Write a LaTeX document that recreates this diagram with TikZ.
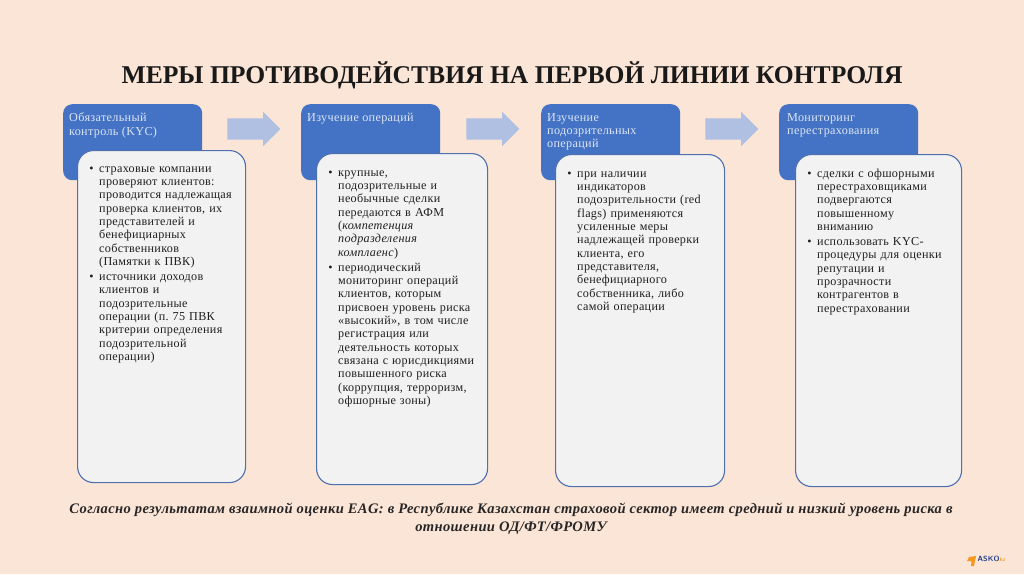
\documentclass[tikz,border=0pt]{standalone}
\usepackage{fontspec}
\setmainfont{Liberation Serif}
\newfontfamily\spacedface{Liberation Serif}[LetterSpace=2.6]
\usepackage{xcolor}
\usetikzlibrary{shapes.arrows, positioning}
\definecolor{pagepeach}{HTML}{FBE5D6}
\definecolor{headblue}{HTML}{4472C4}
\definecolor{headtext}{HTML}{DCE6F4}
\definecolor{bodygray}{HTML}{F2F2F2}
\definecolor{bodyline}{HTML}{4E70AE}
\definecolor{flowblue}{HTML}{AFC0E3}
\definecolor{logoorange}{HTML}{F39A1E}
\definecolor{logoblue}{HTML}{1F3F8F}
\newcommand{\bul}{\leavevmode\strut\llap{\textbullet\hskip5.5pt}}
\newcommand{\bodyfont}{\spacedface\frenchspacing\fontsize{12.15}{13.35}\selectfont}
\tikzset{
    headbox/.style={fill=headblue, rounded corners=9pt, minimum width=139pt,
        minimum height=76pt, anchor=north west, inner sep=0pt},
    headlabel/.style={text=headtext, anchor=north west, inner sep=0pt, align=left,
        font=\spacedface\fontsize{12.2}{13.2}\selectfont},
    bodybox/.style={fill=bodygray, draw=bodyline, line width=1.1pt, rounded corners=16pt,
        anchor=north west, inner sep=0pt},
    bodylabel/.style={text=black!88, anchor=north west, inner sep=0pt, text width=158pt,
        align=left, font=\bodyfont},
    flowarrow/.style={single arrow, fill=flowblue, inner xsep=0pt, inner ysep=10.5pt,
        minimum height=53pt, single arrow head extend=6.5pt}
}
\begin{document}
\begin{tikzpicture}[x=1pt, y=-1pt]
    % Page
    \fill[pagepeach] (0,0) rectangle (1024,574);
    \useasboundingbox (0,0) rectangle (1024,574);

    % Title
    \node[font=\fontsize{25.6}{30}\selectfont\bfseries, text=black!90, inner sep=0pt] (title) at (512, 75)
        {МЕРЫ ПРОТИВОДЕЙСТВИЯ НА ПЕРВОЙ ЛИНИИ КОНТРОЛЯ};

    % Blue heads
    \foreach \name/\x in {kyc/63, oper/301, susp/541, reins/779} {
        \node[headbox] (\name head) at (\x, 104) {};
    }
    \node[headlabel] (kyclabel) at (69, 113) {Обязательный\\контроль (KYC)};
    \node[headlabel] (operlabel) at (307, 113) {Изучение операций};
    \node[headlabel] (susplabel) at (547, 113) {Изучение\\подозрительных\\операций};
    \node[headlabel] (reinslabel) at (787, 113) {Мониторинг\\перестрахования};

    % Grey boxes over the heads
    \node[bodybox, minimum width=168pt, minimum height=332pt] (kycbody) at (77, 150) {};
    \node[bodybox, minimum width=171pt, minimum height=331pt] (operbody) at (316, 153) {};
    \node[bodybox, minimum width=169pt, minimum height=332pt] (suspbody) at (555, 154) {};
    \node[bodybox, minimum width=166pt, minimum height=332pt] (reinsbody) at (795, 154) {};

    % Arrows between the columns
    \foreach \name/\x in {flowa/248.5, flowb/487.5, flowc/726.5} {
        \node[flowarrow] (\name) at (\x, 129) {};
    }

    % Lists
    \node[bodylabel] (kyctext) at (87, 162.6) {\leftskip=12pt
        \bul страховые компании\\
        проверяют клиентов:\\
        проводится надлежащая\\
        проверка клиентов, их\\
        представителей и\\
        бенефициарных\\
        собственников\\
        (Памятки к ПВК)\\[1.5pt]
        \bul источники доходов\\
        клиентов и\\
        подозрительные\\
        операции (п. 75 ПВК\\
        критерии определения\\
        подозрительной\\
        операции)\par};
    \node[bodylabel] (opertext) at (326, 166.6) {\leftskip=12pt
        \bul крупные,\\
        подозрительные и\\
        необычные сделки\\
        передаются в АФМ\\
        (\textit{компетенция}\\
        \textit{подразделения}\\
        \textit{комплаенс})\\[1.5pt]
        \bul периодический\\
        мониторинг операций\\
        клиентов, которым\\
        присвоен уровень риска\\
        «высокий», в том числе\\
        регистрация или\\
        деятельность которых\\
        связана с юрисдикциями\\
        повышенного риска\\
        (коррупция, терроризм,\\
        офшорные зоны)\par};
    \node[bodylabel] (susptext) at (565, 167.6) {\leftskip=12pt
        \bul при наличии\\
        индикаторов\\
        подозрительности (red\\
        flags) применяются\\
        усиленные меры\\
        надлежащей проверки\\
        клиента, его\\
        представителя,\\
        бенефициарного\\
        собственника, либо\\
        самой операции\par};
    \node[bodylabel] (reinstext) at (805, 167.6) {\leftskip=12pt
        \bul сделки с офшорными\\
        перестраховщиками\\
        подвергаются\\
        повышенному\\
        вниманию\\[1.5pt]
        \bul использовать KYC-\\
        процедуры для оценки\\
        репутации и\\
        прозрачности\\
        контрагентов в\\
        перестраховании\par};

    % Bottom note
    \node[font=\spacedface\fontsize{14.55}{18.4}\selectfont\bfseries\itshape, text=black!85, align=center, inner sep=0pt] (note) at (511, 519)
        {Согласно результатам взаимной оценки EAG: в Республике Казахстан страховой сектор имеет средний и низкий уровень риска в\\
        отношении ОД/ФТ/ФРОМУ};

    % Logo
    \fill[logoorange] (969,557) -- (976,556) -- (974,566) -- (971,566) -- (971.5,561) -- (967,561) -- cycle;
    \node[font=\fontsize{7.5}{8}\selectfont\sffamily\bfseries, text=logoblue, inner sep=0pt, anchor=west] (logoname) at (977.5, 559) {ASKO};
    \node[font=\fontsize{5.5}{6}\selectfont\sffamily\bfseries, text=logoorange, inner sep=0pt, anchor=west] (logotld) at (998, 560) {.kz};
\end{tikzpicture}
\end{document}
